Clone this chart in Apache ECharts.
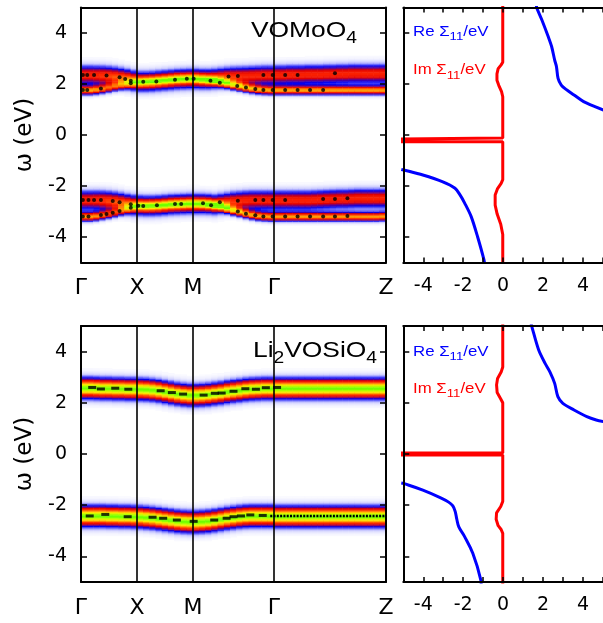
<!DOCTYPE html>
<html><head><meta charset="utf-8">
<script src="https://cdn.jsdelivr.net/npm/echarts@6/dist/echarts.min.js"></script>
<style>html,body{margin:0;padding:0;background:#fff}#c{width:603px;height:623px}</style>
</head><body><div id="c"></div>
<script>
// ---- k-path (column units along the path) ----
const kLabels = ['Γ', 'X', 'M', 'Γ', 'Z'];
const kTicks = [0, 9, 18, 31, 49];
const NK = 49;

// ---- top panel (VOMoO4): band centres per k column (eV) ----
const topCondBroad = [2.36,2.36,2.35,2.34,2.32,2.29,2.25,2.2,2.14, 2.1,2.1,2.11,2.13,2.15,2.17,2.19,2.2,2.21,
  2.21,2.2,2.2,2.22,2.25,2.28,2.3,2.31,2.32,2.33,2.34,2.35,2.35,
  2.36,2.36,2.37,2.37,2.37,2.38,2.38,2.38,2.39,2.39,2.4,2.4,2.41,2.41,2.41,2.41,2.41,2.41];
const topCondNarrow = [1.76,1.76,1.78,1.81,1.85,1.9,1.95,2.0,2.05, 2.08,2.1,2.11,2.13,2.15,2.17,2.19,2.2,2.21,
  2.2,2.18,2.15,2.12,2.07,2.02,1.96,1.91,1.86,1.82,1.79,1.77,1.76,
  1.76,1.76,1.76,1.76,1.76,1.76,1.76,1.76,1.76,1.76,1.76,1.76,1.76,1.76,1.76,1.76,1.76,1.76];
const topValBroad = [-2.55,-2.55,-2.55,-2.56,-2.58,-2.61,-2.65,-2.7,-2.74, -2.76,-2.77,-2.77,-2.76,-2.74,-2.72,-2.71,-2.7,-2.69,
  -2.69,-2.69,-2.7,-2.72,-2.68,-2.64,-2.6,-2.58,-2.56,-2.55,-2.55,-2.55,-2.55,
  -2.55,-2.55,-2.55,-2.55,-2.55,-2.55,-2.54,-2.53,-2.52,-2.51,-2.5,-2.5,-2.49,-2.48,-2.48,-2.48,-2.48,-2.48];
const topValNarrow = [-3.2,-3.2,-3.18,-3.14,-3.1,-3.05,-2.98,-2.9,-2.82, -2.78,-2.78,-2.77,-2.76,-2.74,-2.72,-2.71,-2.7,-2.69,
  -2.69,-2.7,-2.72,-2.75,-2.8,-2.88,-2.96,-3.02,-3.08,-3.13,-3.17,-3.19,-3.2,
  -3.2,-3.2,-3.2,-3.2,-3.2,-3.2,-3.2,-3.2,-3.2,-3.2,-3.2,-3.2,-3.2,-3.2,-3.2,-3.2,-3.2,-3.19];
// relative spectral weight of the broad / narrow branch per k column
const weightBroad = [0.6,0.6,0.61,0.63,0.65,0.67,0.69,0.71,0.72, 0.72,0.72,0.72,0.72,0.72,0.72,0.72,0.72,0.72,
  0.72,0.71,0.7,0.68,0.66,0.64,0.62,0.61,0.6,0.6,0.6,0.6,0.6,
  0.6,0.6,0.6,0.6,0.6,0.6,0.6,0.6,0.6,0.6,0.6,0.6,0.6,0.6,0.6,0.6,0.6,0.6];
const weightNarrow = [0.75,0.75,0.72,0.66,0.58,0.5,0.42,0.35,0.31, 0.3,0.3,0.3,0.3,0.3,0.3,0.3,0.3,0.3,
  0.3,0.33,0.38,0.45,0.53,0.6,0.66,0.71,0.74,0.75,0.75,0.75,0.75,
  0.75,0.75,0.75,0.75,0.75,0.75,0.75,0.75,0.75,0.75,0.75,0.75,0.75,0.75,0.75,0.75,0.75,0.75];
const widthBroad = 0.25, widthNarrow = 0.12;

// ---- bottom panel (Li2VOSiO4) ----
const botCond = [2.58,2.58,2.57,2.56,2.56,2.55,2.55,2.54,2.54, 2.53,2.52,2.5,2.47,2.43,2.39,2.35,2.32,2.3,
  2.3,2.31,2.33,2.36,2.39,2.43,2.46,2.49,2.52,2.54,2.55,2.56,2.56,
  2.56,2.56,2.56,2.56,2.56,2.56,2.56,2.56,2.56,2.56,2.56,2.56,2.56,2.56,2.56,2.56,2.56,2.56];
const botVal = [-2.42,-2.42,-2.42,-2.42,-2.43,-2.43,-2.44,-2.44,-2.45, -2.46,-2.48,-2.5,-2.53,-2.56,-2.59,-2.62,-2.64,-2.65,
  -2.65,-2.64,-2.62,-2.59,-2.55,-2.51,-2.48,-2.45,-2.43,-2.42,-2.42,-2.42,-2.42,
  -2.44,-2.44,-2.44,-2.44,-2.44,-2.44,-2.44,-2.44,-2.44,-2.44,-2.44,-2.44,-2.44,-2.44,-2.44,-2.44,-2.44,-2.44];
const botWeight = 1.0, botWidth = 0.26;

// ---- quasiparticle points [k, ω] ----
const topCondDots = [[0.3,2.35],[1.0,2.35],[2.1,2.35],[4.1,2.33],[6.2,2.26],[7.1,2.2],[8.0,2.13],[8.0,2.03],[10.0,2.09],[12.1,2.1],[15.1,2.17],[17.0,2.21],[18.1,2.21],[20.8,2.13],[22.3,2.05],[23.7,2.29],[25.2,2.31],[29.3,2.35],[30.8,2.35],[32.8,2.35],[34.8,2.35],[40.8,2.42],
  [0.3,1.76],[1.0,1.76],[3.2,1.82],[25.1,1.92],[26.5,1.86],[28.0,1.8],[29.3,1.76],[30.8,1.76],[32.8,1.76],[34.8,1.76],[36.8,1.76],[38.9,1.76]];
const topValDots = [[0.3,-2.55],[1.2,-2.55],[2.1,-2.55],[3.2,-2.55],[5.1,-2.59],[6.2,-2.64],[8.0,-2.72],[8.0,-2.85],[9.2,-2.77],[10.0,-2.78],[12.2,-2.75],[15.1,-2.71],[16.1,-2.71],[19.6,-2.68],[20.9,-2.75],[22.3,-2.64],[25.2,-2.58],[28.0,-2.55],[29.3,-2.55],[30.8,-2.55],[32.8,-2.55],[38.9,-2.51],[40.8,-2.51],[42.8,-2.48],
  [0.3,-3.2],[1.2,-3.2],[3.2,-3.14],[4.1,-3.1],[5.1,-3.05],[6.2,-2.98],[25.2,-3.0],[26.5,-3.09],[28.0,-3.15],[29.3,-3.2],[30.8,-3.2],[32.8,-3.2],[34.8,-3.2],[36.8,-3.2],[38.9,-3.2],[40.8,-3.2],[42.8,-3.18]];
const botCondDashes = [[1.8,2.6],[3.2,2.54],[5.5,2.57],[7.6,2.53],[12.8,2.47],[14.6,2.4],[16.4,2.34],[19.7,2.3],[21.5,2.37],[22.6,2.38],[24.5,2.45],[26.4,2.55],[28.1,2.53],[29.7,2.59],[31.5,2.6]];
const botValDashes = [[1.4,-2.42],[3.9,-2.36],[7.5,-2.45],[11.5,-2.47],[13.2,-2.51],[15.4,-2.58],[18.1,-2.63],[21.4,-2.58],[23.4,-2.51],[24.5,-2.45],[25.7,-2.42],[27.2,-2.38],[29.2,-2.4]];
const botValGammaZ = [[30.4,-2.42],[49,-2.42]];

// ---- self energies [Σ (eV), ω (eV)] ----
const topReUpper = [[1.66,5.1],[1.69,4.97],[1.94,4.51],[2.26,3.85],[2.43,3.46],[2.58,2.94],[2.67,2.68],[2.75,2.22],[2.91,1.96],[3.15,1.79],[3.55,1.57],[4.03,1.31],[4.66,1.09],[5.1,0.95]];
const topReLower = [[-5.1,-1.35],[-4.99,-1.37],[-4.02,-1.57],[-3.05,-1.83],[-2.41,-2.09],[-2.16,-2.35],[-1.92,-2.68],[-1.6,-3.2],[-1.28,-3.99],[-0.96,-4.9],[-0.93,-5.1]];
const topIm = [[-0.02,5.1],[-0.02,2.85],[-0.1,2.75],[-0.25,2.6],[-0.31,2.4],[-0.31,2.15],[-0.22,1.95],[-0.08,1.7],[-0.02,1.5],[-0.02,-0.12],[-6,-0.16],[-6,-0.26],[-0.02,-0.26],[-0.02,-1.75],[-0.1,-1.9],[-0.28,-2.1],[-0.4,-2.35],[-0.4,-2.75],[-0.3,-3.1],[-0.12,-3.5],[-0.02,-3.9],[-0.02,-5.1]];
const botReUpper = [[1.4,5.1],[1.46,4.91],[1.78,4.06],[2.1,3.54],[2.34,3.21],[2.58,2.76],[2.74,2.24],[2.99,1.98],[3.55,1.72],[4.19,1.46],[4.66,1.33],[5.1,1.25]];
const botReLower = [[-5.1,-1.13],[-4.99,-1.15],[-4.02,-1.41],[-3.1,-1.72],[-2.73,-1.88],[-2.52,-2.03],[-2.4,-2.25],[-2.32,-2.55],[-2.22,-2.85],[-1.95,-3.2],[-1.52,-3.88],[-1.12,-4.92],[-1.1,-5.1]];
const botIm = [[-0.02,5.1],[-0.02,3.4],[-0.1,3.2],[-0.28,2.95],[-0.33,2.7],[-0.3,2.4],[-0.12,2.15],[-0.02,2.0],[-0.02,0.04],[-6,0.04],[-6,-0.04],[-0.02,-0.04],[-0.02,-1.85],[-0.12,-2.05],[-0.33,-2.3],[-0.35,-2.55],[-0.25,-2.8],[-0.1,-2.95],[-0.02,-3.1],[-0.02,-5.1]];

const yTicks = [-4, -2, 0, 2, 4];
const sigmaLabels = [-4, -2, 0, 2, 4];

// ---- build spectral tables from the band arrays ----
const NW = 200, W0 = -5, DW = 0.05;
const kCats = Array.from({length: NK}, (_, i) => String(i));
const wCats = Array.from({length: NW}, (_, j) => (W0 + DW * (j + 0.5)).toFixed(3));
function spectrum(bands) {
  const out = [];
  for (let i = 0; i < NK; i++) {
    for (let j = 0; j < NW; j++) {
      const w = W0 + DW * (j + 0.5);
      let v = 0;
      for (const b of bands) {
        const a = Array.isArray(b.a) ? b.a[i] : b.a;
        const d = w - b.c[i];
        v += a * Math.exp(-d * d / (2 * b.s * b.s));
      }
      if (v > 0.012) out.push([i, j, Math.min(v, 1)]);
    }
  }
  return out;
}
const topHeat = spectrum([
  {c: topCondBroad, a: weightBroad, s: widthBroad},
  {c: topCondNarrow, a: weightNarrow, s: widthNarrow},
  {c: topValBroad, a: weightBroad, s: widthBroad},
  {c: topValNarrow, a: weightNarrow, s: widthNarrow}
]);
const botHeat = spectrum([
  {c: botCond, a: botWeight, s: botWidth},
  {c: botVal, a: botWeight, s: botWidth}
]);

// ---- colour scale ----
const stops = [[0,[255,255,255]],[0.05,[236,236,255]],[0.12,[200,200,255]],[0.2,[112,112,255]],[0.3,[0,0,240]],
  [0.4,[110,0,130]],[0.5,[224,0,0]],[0.62,[255,40,0]],[0.74,[255,140,0]],[0.86,[255,230,0]],[0.94,[200,255,0]],[1,[110,255,0]]];
const palette = [];
for (let t = 0; t <= 100; t++) {
  const x = t / 100;
  let k = 0; while (k < stops.length - 2 && x > stops[k + 1][0]) k++;
  const [x0, c0] = stops[k], [x1, c1] = stops[k + 1];
  const f = (x - x0) / (x1 - x0);
  const c = c0.map((v, i) => Math.round(v + (c1[i] - v) * f));
  palette.push('rgb(' + c.join(',') + ')');
}

const FONT = 'DejaVu Sans';
const G = {L1: 81, W1: 305, L2: 403.3, W2: 207};
const grids = [
  {left: G.L1, top: 7.5, width: G.W1, height: 255},
  {left: G.L2, top: 7.5, width: G.W2, height: 255},
  {left: G.L1, top: 326, width: G.W1, height: 256},
  {left: G.L2, top: 326, width: G.W2, height: 256}
];
const axLine = {show: true, onZero: false, lineStyle: {color: '#000', width: 2}};
const noSplit = {show: false};
function catX(g) { return {type: 'category', gridIndex: g, data: kCats, show: false, boundaryGap: true}; }
function catY(g) { return {type: 'category', gridIndex: g, data: wCats, show: false, boundaryGap: true}; }
function kAxis(g, pos, labels) {
  return {type: 'value', gridIndex: g, position: pos, min: 0, max: NK, z: 10, axisLine: axLine, splitLine: noSplit,
    axisTick: {show: false},
    axisLabel: labels ? {show: true, customValues: kTicks, formatter: v => kLabels[kTicks.indexOf(v)] || '',
      fontSize: 22, fontFamily: FONT, color: '#000', margin: 15} : {show: false}};
}
function wAxis(g, pos, labels) {
  return {type: 'value', gridIndex: g, position: pos, min: -5, max: 5, z: 10, axisLine: axLine, splitLine: noSplit,
    axisTick: {show: true, inside: true, length: 6, customValues: yTicks, lineStyle: {color: '#000', width: 1.5}},
    axisLabel: labels ? {show: true, customValues: yTicks, fontSize: 19, fontFamily: FONT, color: '#000', margin: 14} : {show: false},
    name: labels ? 'ω (eV)' : '', nameLocation: 'middle', nameGap: 44, nameRotate: 90,
    nameTextStyle: {fontSize: 23, fontFamily: FONT, color: '#000'}};
}
function sAxis(g, pos, labels) {
  return {type: 'value', gridIndex: g, position: pos, min: -5, max: 5, interval: 1, z: 10, axisLine: axLine, splitLine: noSplit,
    axisTick: {show: true, inside: true, length: 5, lineStyle: {color: '#000', width: 1.5}},
    axisLabel: labels ? {show: true, customValues: sigmaLabels, fontSize: 19, fontFamily: FONT, color: '#000', margin: 14} : {show: false}};
}
function sYAxis(g) {
  return {type: 'value', gridIndex: g, position: 'left', min: -5, max: 5, z: 10, axisLine: axLine, splitLine: noSplit,
    axisTick: {show: true, inside: true, length: 6, customValues: yTicks, lineStyle: {color: '#000', width: 1.5}},
    axisLabel: {show: false}};
}
const xAxis = [catX(0), kAxis(0, 'bottom', true), kAxis(0, 'top', false), sAxis(1, 'bottom', true), sAxis(1, 'top', false),
  catX(2), kAxis(2, 'bottom', true), kAxis(2, 'top', false), sAxis(3, 'bottom', true), sAxis(3, 'top', false)];
const yAxis = [catY(0), wAxis(0, 'left', true), wAxis(0, 'right', false), sYAxis(1),
  catY(2), wAxis(2, 'left', true), wAxis(2, 'right', false), sYAxis(3)];

const vLines = {silent: true, symbol: 'none', label: {show: false}, animation: false,
  lineStyle: {color: '#000', width: 1.6, type: 'solid'}, data: kTicks.slice(1, 4).map(v => ({xAxis: v}))};
function dots(data, xi, yi, ml) {
  const s = {type: 'scatter', xAxisIndex: xi, yAxisIndex: yi, data, symbol: 'circle', symbolSize: 4,
    itemStyle: {color: '#000'}, z: 5, silent: true};
  if (ml) s.markLine = vLines;
  return s;
}
function dashes(data, xi, yi, ml) {
  const s = {type: 'scatter', xAxisIndex: xi, yAxisIndex: yi, data, symbol: 'rect', symbolSize: [8, 3],
    itemStyle: {color: '#000'}, z: 5, silent: true};
  if (ml) s.markLine = vLines;
  return s;
}
function curve(data, xi, yi, color, smooth) {
  return {type: 'line', xAxisIndex: xi, yAxisIndex: yi, data, showSymbol: false, smooth: smooth, clip: true,
    lineStyle: {color, width: 3}, itemStyle: {color}, z: 4, silent: true};
}

const series = [
  {type: 'heatmap', xAxisIndex: 0, yAxisIndex: 0, data: topHeat, progressive: 0, silent: true},
  {type: 'heatmap', xAxisIndex: 5, yAxisIndex: 4, data: botHeat, progressive: 0, silent: true},
  dots(topCondDots, 1, 1, true),
  dots(topValDots, 1, 1, false),
  dashes(botCondDashes, 6, 5, true),
  dashes(botValDashes, 6, 5, false),
  {type: 'line', xAxisIndex: 6, yAxisIndex: 5, data: botValGammaZ, showSymbol: false, z: 5, silent: true,
    lineStyle: {color: '#000', width: 2.5, type: [2, 1.3]}},
  curve(topReUpper, 3, 3, '#0000ff', 0.3),
  curve(topReLower, 3, 3, '#0000ff', 0.3),
  curve(topIm, 3, 3, '#ff0000', false),
  curve(botReUpper, 8, 7, '#0000ff', 0.3),
  curve(botReLower, 8, 7, '#0000ff', 0.4),
  curve(botIm, 8, 7, '#ff0000', false)
];

const SANS = 'Liberation Sans';
function richText(x, y, text, rich, align) {
  return {type: 'text', x, y, scaleX: 1.2, silent: true, z: 100,
    style: {text, rich, align: align, verticalAlign: 'middle', font: '14px ' + SANS}};
}
const titleRich = {
  n: {fontSize: 22, lineHeight: 22, fontFamily: SANS, fill: '#000', color: '#000'},
  s: {fontSize: 16, lineHeight: 16, padding: [15, 0, 0, 0], fontFamily: SANS, fill: '#000', color: '#000'}
};
function legRich(color) {
  return {
    r: {fontSize: 14, lineHeight: 14, fontFamily: SANS, color, fill: color},
    s: {fontSize: 11, lineHeight: 11, padding: [10, 0, 0, 0], fontFamily: SANS, color, fill: color}
  };
}
const graphic = [
  richText(357, 31, '{n|VOMoO}{s|4}', titleRich, 'right'),
  richText(377, 351, '{n|Li}{s|2}{n|VOSiO}{s|4}', titleRich, 'right'),
  richText(413, 32, '{r|Re Σ}{s|11}{r|/eV}', legRich('#0000ff'), 'left'),
  richText(413, 70.5, '{r|Im Σ}{s|11}{r|/eV}', legRich('#ff0000'), 'left'),
  richText(413, 352, '{r|Re Σ}{s|11}{r|/eV}', legRich('#0000ff'), 'left'),
  richText(413, 389, '{r|Im Σ}{s|11}{r|/eV}', legRich('#ff0000'), 'left')
];

const chart = echarts.init(document.getElementById('c'), null, {renderer: 'canvas'});
chart.setOption({
  animation: false,
  backgroundColor: '#fff',
  grid: grids,
  xAxis, yAxis,
  visualMap: {type: 'continuous', show: false, min: 0, max: 1, seriesIndex: [0, 1], inRange: {color: palette}},
  series,
  graphic
});
</script></body></html>
